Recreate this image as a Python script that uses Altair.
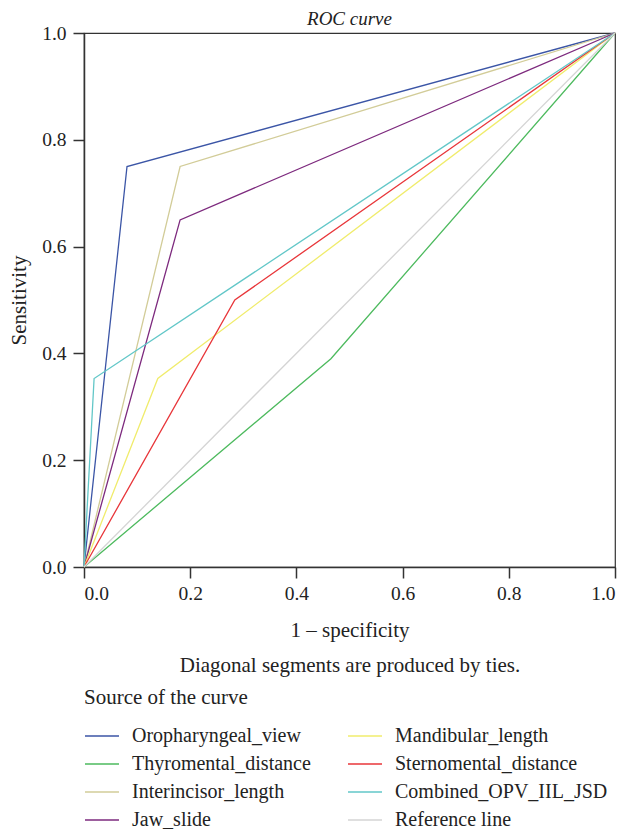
import altair as alt
import pandas as pd

series_names = ["Oropharyngeal_view", "Thyromental_distance", "Interincisor_length", "Jaw_slide",
                "Mandibular_length", "Sternomental_distance", "Combined_OPV_IIL_JSD", "Reference line"]
series_colors = ["#3b55a6", "#4dba5e", "#d2cc98", "#7d2a7e", "#f0ec6c", "#e8363a", "#62c7c8", "#d4d4d4"]

fpr = {
    "Oropharyngeal_view": [0.0, 0.081, 1.0],
    "Thyromental_distance": [0.0, 0.465, 1.0],
    "Interincisor_length": [0.0, 0.181, 1.0],
    "Jaw_slide": [0.0, 0.181, 1.0],
    "Mandibular_length": [0.0, 0.139, 1.0],
    "Sternomental_distance": [0.0, 0.284, 1.0],
    "Combined_OPV_IIL_JSD": [0.0, 0.019, 1.0],
    "Reference line": [0.0, 1.0],
}
tpr = {
    "Oropharyngeal_view": [0.0, 0.75, 1.0],
    "Thyromental_distance": [0.0, 0.39, 1.0],
    "Interincisor_length": [0.0, 0.75, 1.0],
    "Jaw_slide": [0.0, 0.65, 1.0],
    "Mandibular_length": [0.0, 0.353, 1.0],
    "Sternomental_distance": [0.0, 0.50, 1.0],
    "Combined_OPV_IIL_JSD": [0.0, 0.353, 1.0],
    "Reference line": [0.0, 1.0],
}

rows = []
for s in series_names:
    for i, (x, y) in enumerate(zip(fpr[s], tpr[s])):
        rows.append({"series": s, "x": x, "y": y, "ord": i})
df = pd.DataFrame(rows)

FONT = "Liberation Serif"

chart = alt.Chart(df).mark_line(strokeWidth=1.3).encode(
    x=alt.X("x:Q", scale=alt.Scale(domain=[0, 1], nice=False),
            axis=alt.Axis(title=["1 \u2013 specificity", "Diagonal segments are produced by ties."],
                          values=[0, 0.2, 0.4, 0.6, 0.8, 1.0], format=".1f",
                          titleLineHeight=35, titlePadding=17, labelPadding=6)),
    y=alt.Y("y:Q", scale=alt.Scale(domain=[0, 1], nice=False),
            axis=alt.Axis(title="Sensitivity", values=[0, 0.2, 0.4, 0.6, 0.8, 1.0], format=".1f",
                          titlePadding=12, labelPadding=7)),
    color=alt.Color("series:N", scale=alt.Scale(domain=series_names, range=series_colors),
                    legend=alt.Legend(title="Source of the curve", orient="none", legendX=0, legendY=654,
                                      columns=2, symbolType="stroke", symbolSize=1156,
                                      symbolStrokeWidth=1.3, labelOffset=12, columnPadding=34,
                                      rowPadding=0, titlePadding=10, labelFontSize=20,
                                      titleFontSize=21, titleFontWeight="normal", labelFont=FONT,
                                      titleFont=FONT, labelColor="#222", titleColor="#222",
                                      labelLimit=400)),
    order="ord:Q",
).properties(
    width=531, height=534,
    title=alt.TitleParams("ROC curve", font=FONT, fontSize=19, fontStyle="italic",
                          fontWeight="normal", color="#222", offset=-6, anchor="middle"),
    padding={"top": 2, "left": 0, "right": 0, "bottom": 0},
).configure_view(
    stroke="#333", strokeWidth=1.2,
).configure_axis(
    labelFont=FONT, titleFont=FONT, labelFontSize=19.5, titleFontSize=21, titleFontWeight="normal",
    labelColor="#222", titleColor="#222", domainColor="#333", domainWidth=1.5,
    tickColor="#333", tickWidth=1.5, tickSize=11, grid=False,
)

chart.save("out.html", embed_options={"renderer": "svg", "actions": False})
